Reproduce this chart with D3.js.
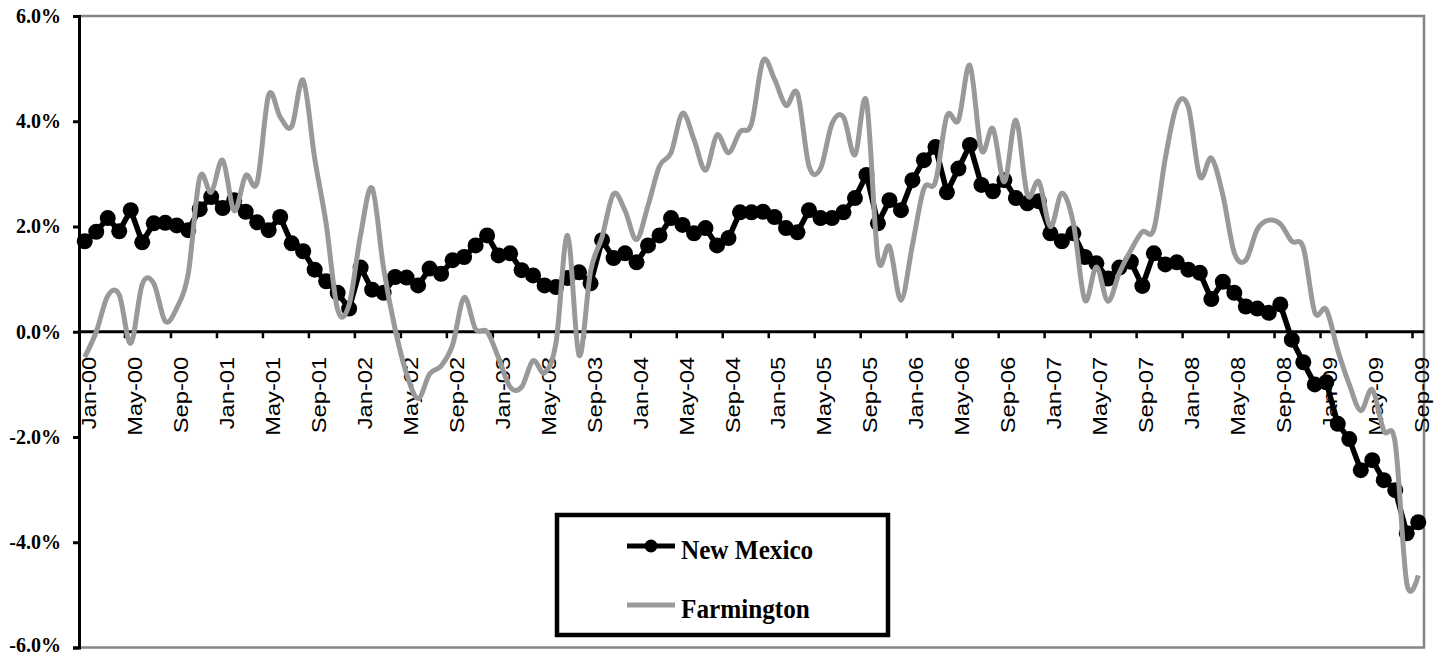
<!DOCTYPE html>
<html>
<head>
<meta charset="utf-8">
<script src="https://cdn.jsdelivr.net/npm/d3@7"></script>
<style>
  body { margin: 0; background: #fff; }
  svg { display: block; }
</style>
</head>
<body>
<svg id="chart" width="1440" height="656"></svg>
<script>
// Monthly categories, Jan-00 .. Sep-09
const monthNames = ["Jan","Feb","Mar","Apr","May","Jun","Jul","Aug","Sep","Oct","Nov","Dec"];
const years = ["00","01","02","03","04","05","06","07","08","09"];
const lastMonthOfFinalYear = 9; // data runs through September of the final year

const categories = [];
years.forEach((yr, yi) => {
  const n = yi === years.length - 1 ? lastMonthOfFinalYear : 12;
  for (let m = 0; m < n; m++) categories.push(monthNames[m] + "-" + yr);
});

// Year-over-year employment growth, percent
const newMexico = [
  1.72, 1.90, 2.16, 1.91, 2.31, 1.70, 2.06, 2.07, 2.02, 1.93,
  2.33, 2.56, 2.35, 2.50, 2.28, 2.08, 1.93, 2.18, 1.68, 1.53,
  1.18, 0.96, 0.74, 0.44, 1.22, 0.80, 0.74, 1.04, 1.03, 0.88,
  1.20, 1.10, 1.36, 1.42, 1.64, 1.83, 1.45, 1.49, 1.17, 1.07,
  0.88, 0.85, 1.02, 1.13, 0.92, 1.74, 1.40, 1.49, 1.32, 1.64,
  1.83, 2.16, 2.03, 1.87, 1.97, 1.64, 1.78, 2.27, 2.27, 2.28,
  2.18, 1.97, 1.89, 2.31, 2.16, 2.16, 2.27, 2.54, 2.98, 2.06,
  2.50, 2.31, 2.88, 3.26, 3.51, 2.65, 3.10, 3.55, 2.79, 2.67,
  2.88, 2.54, 2.44, 2.48, 1.87, 1.72, 1.87, 1.42, 1.30, 1.01,
  1.22, 1.33, 0.87, 1.49, 1.28, 1.32, 1.18, 1.12, 0.62, 0.95,
  0.74, 0.48, 0.44, 0.36, 0.52, -0.15, -0.58, -1.00, -0.96, -1.75,
  -2.04, -2.63, -2.44, -2.82, -3.01, -3.83, -3.62
];

const farmington = [
  -0.48, 0.00, 0.68, 0.70, -0.22, 0.90, 0.92, 0.20, 0.45, 1.10,
  2.93, 2.65, 3.26, 2.30, 2.97, 2.84, 4.50, 4.08, 3.90, 4.78,
  3.30, 2.05, 0.42, 0.52, 1.85, 2.73, 1.20, 0.05, -0.80, -1.27,
  -0.80, -0.65, -0.25, 0.65, 0.05, 0.00, -0.50, -1.05, -1.05, -0.55,
  -0.78, -0.20, 1.83, -0.45, 1.15, 1.80, 2.62, 2.30, 1.75, 2.40,
  3.15, 3.40, 4.15, 3.65, 3.07, 3.74, 3.40, 3.80, 3.95, 5.15,
  4.80, 4.30, 4.53, 3.15, 3.10, 3.95, 4.08, 3.36, 4.38, 1.40,
  1.62, 0.60, 1.65, 2.72, 2.85, 4.10, 4.02, 5.06, 3.45, 3.86,
  2.85, 4.02, 2.60, 2.85, 2.00, 2.63, 2.06, 0.60, 1.23, 0.58,
  1.12, 1.55, 1.90, 1.95, 3.30, 4.30, 4.27, 2.95, 3.30, 2.60,
  1.50, 1.36, 1.95, 2.12, 2.05, 1.72, 1.60, 0.37, 0.42, -0.35,
  -1.00, -1.50, -1.10, -1.88, -2.12, -4.78, -4.63
];

const yTicks = [-6, -4, -2, 0, 2, 4, 6];
const labelEvery = 4;
const seriesNames = ["New Mexico", "Farmington"];

// Layout
const plot = { left: 79, right: 1424, top: 16, bottom: 647.5 };
const svg = d3.select("#chart");

const x = d3.scaleBand().domain(categories).range([plot.left, plot.right]).padding(0);
const y = d3.scaleLinear().domain([-6, 6]).range([plot.bottom, plot.top]);
const cx = d => x(d) + x.bandwidth() / 2;

// Plot frame (grey top / right / bottom)
svg.append("path")
  .attr("d", `M${plot.left},${plot.top}H${plot.right}V${plot.bottom}H${plot.left}`)
  .attr("fill", "none")
  .attr("stroke", "#858585")
  .attr("stroke-width", 2.5);

// Y axis
const yAxis = svg.append("g")
  .attr("transform", `translate(${plot.left},0)`)
  .call(d3.axisLeft(y).tickValues(yTicks).tickSize(6).tickPadding(12)
    .tickFormat(d => d.toFixed(1) + "%"));
yAxis.select(".domain").attr("stroke", "#000").attr("stroke-width", 3);
yAxis.selectAll(".tick line").attr("stroke", "#000").attr("stroke-width", 3);
yAxis.selectAll(".tick text")
  .attr("fill", "#000")
  .attr("font-family", "'Liberation Serif', 'Times New Roman', serif")
  .attr("font-weight", "bold")
  .attr("font-size", 20)
  .attr("dy", d => d === -6 ? "0.22em" : "0.32em");

// Zero line with category tick marks
const y0 = y(0);
svg.append("line")
  .attr("x1", plot.left).attr("x2", plot.right)
  .attr("y1", y0).attr("y2", y0)
  .attr("stroke", "#000").attr("stroke-width", 3);

const tickCats = categories.filter((d, i) => i % labelEvery === 0);
svg.append("g").selectAll("line")
  .data(tickCats.slice(1))
  .join("line")
  .attr("x1", d => x(d)).attr("x2", d => x(d))
  .attr("y1", y0).attr("y2", y0 + 6.5)
  .attr("stroke", "#000").attr("stroke-width", 2.5);

// Rotated month labels
svg.append("g").selectAll("text")
  .data(tickCats)
  .join("text")
  .attr("transform", d => `translate(${cx(d) + 11},${y0 + 25}) rotate(-90) scale(1.13,1)`)
  .attr("text-anchor", "end")
  .attr("font-family", "'Liberation Sans', Arial, sans-serif")
  .attr("font-size", 21)
  .attr("fill", "#000")
  .text(d => d);

// New Mexico: straight segments with round markers
const nmData = categories.map((c, i) => ({ c, v: newMexico[i] }));
const frData = categories.map((c, i) => ({ c, v: farmington[i] }));

svg.append("path")
  .datum(nmData)
  .attr("fill", "none")
  .attr("stroke", "#000")
  .attr("stroke-width", 5.5)
  .attr("stroke-linejoin", "round")
  .attr("d", d3.line().x(d => cx(d.c)).y(d => y(d.v)));

svg.append("g").selectAll("circle")
  .data(nmData)
  .join("circle")
  .attr("cx", d => cx(d.c))
  .attr("cy", d => y(d.v))
  .attr("r", 8)
  .attr("fill", "#000");

// Farmington: smoothed grey line
svg.append("path")
  .datum(frData)
  .attr("fill", "none")
  .attr("stroke", "#999999")
  .attr("stroke-width", 5)
  .attr("stroke-linejoin", "round")
  .attr("d", d3.line().curve(d3.curveCatmullRom.alpha(0)).x(d => cx(d.c)).y(d => y(d.v)));

// Legend
const legend = svg.append("g");
legend.append("rect")
  .attr("x", 557).attr("y", 515).attr("width", 331).attr("height", 120)
  .attr("fill", "#fff").attr("stroke", "#000").attr("stroke-width", 4.5);

const legendRows = [
  { name: seriesNames[0], color: "#000", marker: true, y: 546 },
  { name: seriesNames[1], color: "#999999", marker: false, y: 605 }
];
legendRows.forEach(r => {
  legend.append("line")
    .attr("x1", 627).attr("x2", 675).attr("y1", r.y).attr("y2", r.y)
    .attr("stroke", r.color).attr("stroke-width", 5);
  if (r.marker) {
    legend.append("circle").attr("cx", 651).attr("cy", r.y).attr("r", 6.5).attr("fill", r.color);
  }
  legend.append("text")
    .attr("transform", `translate(681,${r.y + 13}) scale(0.9,1)`)
    .attr("font-family", "'Liberation Serif', 'Times New Roman', serif")
    .attr("font-weight", "bold")
    .attr("font-size", 28)
    .attr("fill", "#000")
    .text(r.name);
});
</script>
</body>
</html>
